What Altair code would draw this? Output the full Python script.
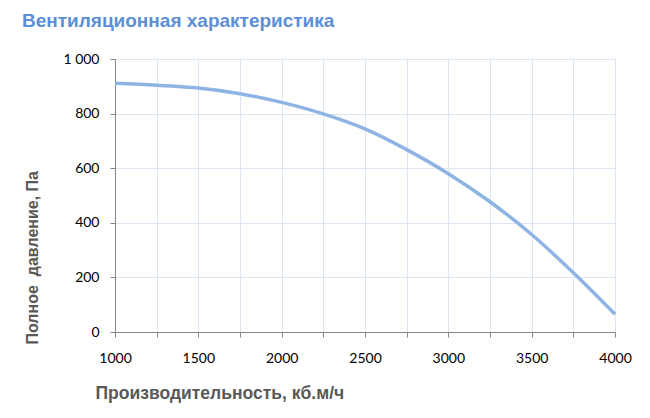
import altair as alt
import pandas as pd

# airflow, m3/h
flow = [1000, 1250, 1500, 1750, 2000, 2250, 2500, 2750, 3000, 3250, 3500, 3750, 4000]
# total pressure, Pa
pressure = [911, 904, 894, 873, 841, 799, 744, 668, 580, 477, 357, 217, 65]

x_ticks = [1000, 1250, 1500, 1750, 2000, 2250, 2500, 2750, 3000, 3250, 3500, 3750, 4000]
y_ticks = [0, 200, 400, 600, 800, 1000]

df = pd.DataFrame({"flow": flow, "pressure": pressure})

chart = alt.Chart(df).mark_line(
    color="#8EB4E3", strokeWidth=3.5, interpolate="monotone"
).encode(
    x=alt.X("flow:Q", scale=alt.Scale(domain=[1000, 4000], nice=False, zero=False),
            axis=alt.Axis(values=x_ticks,
                          labelExpr="datum.value % 500 == 0 ? datum.value : ''",
                          labelFlush=False,
                          title="Производительность, кб.м/ч",
                          titleX=-20, titleY=66, titleAlign="left",
                          titleBaseline="alphabetic", titleFontSize=17.5,
                          labelPadding=14)),
    y=alt.Y("pressure:Q", scale=alt.Scale(domain=[0, 1000], nice=False),
            axis=alt.Axis(values=y_ticks,
                          labelExpr="datum.value == 1000 ? '1\u00a0000' : datum.label",
                          title="Полное\u00a0 давление, Па",
                          titleX=-78, titleY=285, titleAngle=270,
                          titleAlign="left", titleBaseline="alphabetic",
                          titleFontSize=16,
                          labelPadding=11)),
).properties(
    width=500,
    height=273,
    autosize=alt.AutoSizeParams(type="none"),
    padding={"left": 107, "top": 51, "right": 20, "bottom": 80},
    title=alt.TitleParams(
        "Вентиляционная характеристика",
        anchor="start", frame="group", dx=-93, offset=21,
        font="Liberation Sans", fontSize=19, fontWeight="bold", color="#5B8FD6",
    ),
).configure_view(
    stroke=None
).configure_axis(
    domainColor="#868686",
    tickColor="#868686",
    tickSize=5,
    gridColor="#DCE6F2",
    gridWidth=1,
    labelFont="Lato",
    labelFontSize=14,
    labelColor="#000000",
    titleFont="Liberation Sans",
    titleFontWeight="bold",
    titleColor="#595959",
)

chart.save("out.html", embed_options={"renderer": "svg", "actions": False})
